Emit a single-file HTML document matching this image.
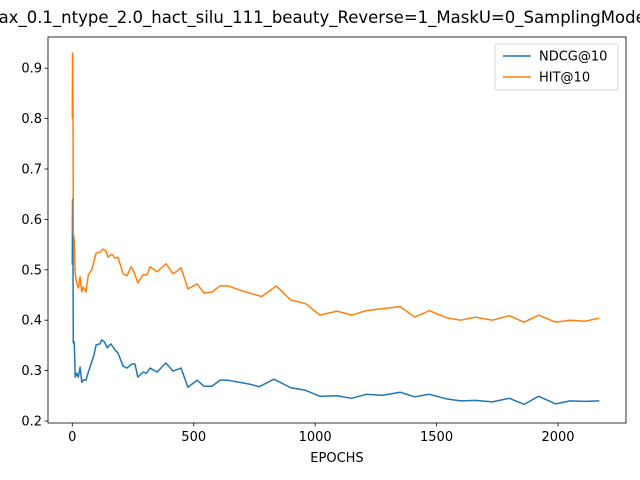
<!DOCTYPE html>
<html><head><meta charset="utf-8"><style>
body{margin:0;background:#fff}
svg{display:block;font-family:"DejaVu Sans","Liberation Sans",sans-serif}
</style></head><body>
<svg id="chart" width="640" height="480">
<rect x="0" y="0" width="640" height="480" fill="#fff"/>
<text x="310" y="23" text-anchor="middle" font-size="16.5">Softmax_0.1_ntype_2.0_hact_silu_111_beauty_Reverse=1_MaskU=0_SamplingMode=1</text>
<g id="plot"></g>
<text x="337" y="462" text-anchor="middle" font-size="13">EPOCHS</text>
</svg>
<script>
const ndcgX=[0,1,2,3,4,8,12,18,25,32,39,45,56,66,80,89,98,114,121,132,144,159,176,188,209,225,245,258,270,291,306,320,349,385,415,448,476,514,542,575,608,641,732,770,830,900,960,1020,1090,1150,1210,1280,1350,1410,1470,1540,1600,1660,1730,1800,1860,1920,1990,2050,2110,2170];
const ndcgY=[0.51,0.64,0.60,0.513,0.355,0.357,0.287,0.295,0.287,0.307,0.277,0.281,0.281,0.297,0.317,0.331,0.351,0.353,0.361,0.357,0.345,0.353,0.341,0.335,0.309,0.305,0.313,0.313,0.287,0.297,0.295,0.305,0.297,0.315,0.299,0.305,0.267,0.281,0.269,0.269,0.281,0.281,0.273,0.268,0.283,0.266,0.261,0.249,0.25,0.245,0.253,0.251,0.257,0.248,0.253,0.244,0.24,0.241,0.238,0.245,0.233,0.249,0.234,0.24,0.239,0.24];
const hitX=[0,1,2,3,4,8,12,18,25,32,39,45,56,66,80,98,114,126,139,147,163,176,188,209,225,242,254,270,291,308,320,349,386,415,448,476,514,542,575,608,641,700,780,840,900,960,1020,1090,1150,1210,1280,1350,1410,1470,1540,1600,1660,1730,1800,1860,1920,1990,2050,2110,2170];
const hitY=[0.80,0.93,0.926,0.803,0.573,0.559,0.494,0.474,0.464,0.486,0.456,0.466,0.456,0.49,0.5,0.533,0.535,0.541,0.537,0.525,0.531,0.523,0.525,0.492,0.488,0.506,0.496,0.474,0.49,0.49,0.506,0.496,0.512,0.492,0.504,0.462,0.472,0.454,0.456,0.468,0.468,0.458,0.447,0.468,0.44,0.433,0.41,0.418,0.41,0.419,0.423,0.427,0.406,0.419,0.405,0.4,0.406,0.4,0.409,0.396,0.41,0.396,0.4,0.398,0.404];
const xTicks=[0,500,1000,1500,2000];
const yTicks=[0.2,0.3,0.4,0.5,0.6,0.7,0.8,0.9];
const L=48,R=626,T=37,B=423;
const sx=v=>72.3+v*(558-72.3)/2000;
const sy=v=>421-(v-0.2)*504;
const ns="http://www.w3.org/2000/svg";
const g=document.getElementById('plot');
function mk(t,a){const e=document.createElementNS(ns,t);for(const k in a)e.setAttribute(k,a[k]);g.appendChild(e);return e;}
xTicks.forEach(v=>{
 const l=mk('line',{x1:sx(v),x2:sx(v),y1:B,y2:B+3.5,stroke:'#000','stroke-width':0.8});
 
 
 const t=mk('text',{x:sx(v),y:B+18,'text-anchor':'middle','font-size':13});
 t.textContent=v;
 
 
});
yTicks.forEach(v=>{
 const l=mk('line',{x1:L-3.5,x2:L,y1:sy(v),y2:sy(v),stroke:'#000','stroke-width':0.8});
 
 
 const t=mk('text',{x:L-6,y:sy(v)+4.5,'text-anchor':'end','font-size':13});
 t.textContent=v.toFixed(1);
 
 
});
function line(xs,ys,c,name){
 const p=mk('polyline',{points:xs.map((x,i)=>sx(x)+','+sy(ys[i])).join(' '),fill:'none',stroke:c,'stroke-width':1.5,'stroke-linejoin':'round'});
 
 
}
line(ndcgX,ndcgY,'#1f77b4','ndcg-line');
line(hitX,hitY,'#ff7f0e','hit-line');
const fr=mk('rect',{x:L,y:T,width:R-L,height:B-T,fill:'none',stroke:'#000','stroke-width':0.8});


const lg=mk('rect',{x:495,y:44,width:123,height:46,rx:2,fill:'#fff','fill-opacity':0.8,stroke:'#ccc','stroke-width':0.8});


[['NDCG@10','#1f77b4',56],['HIT@10','#ff7f0e',77]].forEach(([n,c,y])=>{
 const l=mk('line',{x1:503,x2:531,y1:y,y2:y,stroke:c,'stroke-width':1.5});
 
 
 const t=mk('text',{x:539,y:y+4.5,'font-size':13});
 t.textContent=n;
 
 
});
</script>
</body></html>
